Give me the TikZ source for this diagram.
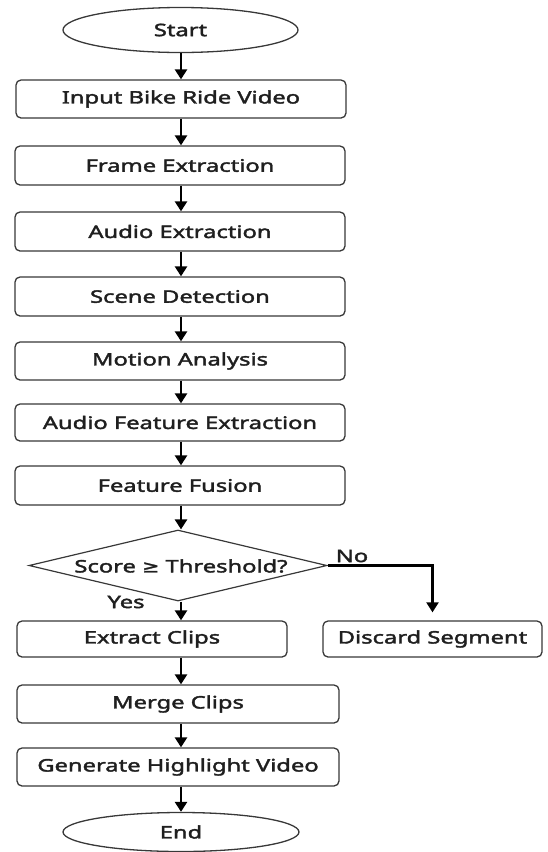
\documentclass[tikz,border=0pt]{standalone}
\usepackage{fontspec}
\setmainfont{Noto Sans}[FakeStretch=1.38,FakeBold=2.2]
\newfontfamily\symfont{DejaVu Sans}[FakeStretch=1.2,FakeBold=1.5]
\usetikzlibrary{shapes.geometric,arrows.meta,calc}
\begin{document}
\begin{tikzpicture}[x=1pt,y=-1pt,
  every node/.style={font=\fontsize{17.2}{19}\selectfont, text=black!88},
  proc/.style={draw=black!78, line width=1.3pt, rounded corners=5pt, minimum height=38pt, inner sep=0pt},
  term/.style={draw=black!78, line width=1.3pt, ellipse, inner sep=0pt},
  decision/.style={draw=black!78, line width=1.2pt, diamond, inner sep=0pt, minimum width=298pt, minimum height=71pt},
  arr/.style={line width=2.8pt, -{Triangle[width=12pt,length=10pt]}},
  lbl/.style={inner sep=0pt}
]
\useasboundingbox (0,0) rectangle (547,852);

\node[term, minimum width=235pt, minimum height=45pt] (start) at (180.5,30) {Start};
\node[proc, minimum width=330pt] (input) at (181,99) {Input Bike Ride Video};
\node[proc, minimum width=330pt, minimum height=39pt] (frame) at (180,165.5) {Frame Extraction};
\node[proc, minimum width=330pt, minimum height=39pt] (audio) at (180,231.5) {Audio Extraction};
\node[proc, minimum width=330pt, minimum height=39pt] (scene) at (180,296.5) {Scene Detection};
\node[proc, minimum width=330pt] (motion) at (180,361) {Motion Analysis};
\node[proc, minimum width=330pt, minimum height=37pt] (afe) at (180,422.5) {Audio Feature Extraction};
\node[proc, minimum width=330pt, minimum height=39pt] (fusion) at (180,485.5) {Feature Fusion};
\node[decision] (dec) at (178,565.5) {};
\node[lbl] (dectext) at (181,566) {Score {\symfont ≥} Threshold?};
\node[proc, minimum width=270pt, minimum height=36pt] (extract) at (152,639) {Extract Clips};
\node[proc, minimum width=219pt, minimum height=36pt] (discard) at (432.5,639) {Discard Segment};
\node[proc, minimum width=322pt] (merge) at (178,704) {Merge Clips};
\node[proc, minimum width=322pt] (generate) at (178,767) {Generate Highlight Video};
\node[term, minimum width=236pt, minimum height=39pt] (end) at (181,832) {End};

\node[lbl] (nolbl) at (352,556) {No};
\node[lbl] (yeslbl) at (126,602) {Yes};

\draw[arr] (start.south -| 181,0) -- (input.north -| 181,0);
\draw[arr] (input.south -| 181,0) -- (frame.north -| 181,0);
\draw[arr] (frame.south -| 181,0) -- (audio.north -| 181,0);
\draw[arr] (audio.south -| 181,0) -- (scene.north -| 181,0);
\draw[arr] (scene.south -| 181,0) -- (motion.north -| 181,0);
\draw[arr] (motion.south -| 181,0) -- (afe.north -| 181,0);
\draw[arr] (afe.south -| 181,0) -- (fusion.north -| 181,0);
\draw[arr] (fusion.south -| 181,0) -- (dec.north -| 181,0);
\draw[arr] (dec.south -| 181,0) -- (extract.north -| 181,0);
\draw[arr] (extract.south -| 181,0) -- (merge.north -| 181,0);
\draw[arr] (merge.south -| 181,0) -- (generate.north -| 181,0);
\draw[arr] (generate.south -| 181,0) -- (end.north -| 181,0);
\draw[line width=2.2pt, -{Triangle[width=12pt,length=10pt]}, shorten >=8pt] (dec.east) -| (discard.north);
\end{tikzpicture}
\end{document}
